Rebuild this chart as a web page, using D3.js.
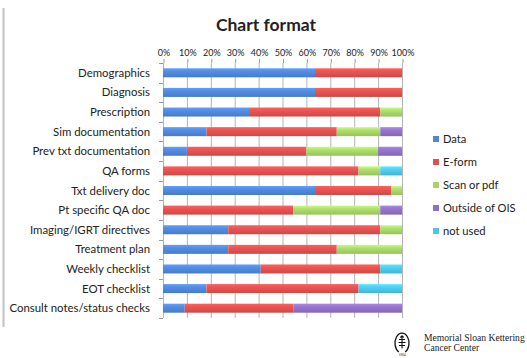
<!DOCTYPE html>
<html>
<head>
<meta charset="utf-8">
<script src="https://cdn.jsdelivr.net/npm/d3@7"></script>
<style>
  html, body { margin: 0; padding: 0; background: #fff; }
  svg { display: block; }
  text { font-family: Lato, "Open Sans", sans-serif; fill: #222; }
</style>
</head>
<body>
<svg id="chart" width="527" height="358"></svg>
<script>
// Categories (top to bottom) and share of each format, in percent
const categories = [
  "Demographics", "Diagnosis", "Prescription", "Sim documentation",
  "Prev txt documentation", "QA forms", "Txt delivery doc", "Pt specific QA doc",
  "Imaging/IGRT directives", "Treatment plan", "Weekly checklist", "EOT checklist",
  "Consult notes/status checks"
];
const seriesNames = ["Data", "E-form", "Scan or pdf", "Outside of OIS", "not used"];
const dataPct    = [63.6, 63.6, 36.4, 18.2, 10, 0,    63.6, 0,    27.3, 27.3, 40.9, 18.2, 9.1];
const eformPct   = [36.4, 36.4, 54.5, 54.5, 50, 81.8, 31.8, 54.5, 63.6, 45.4, 50,   63.6, 45.4];
const scanPct    = [0,    0,    9.1,  18.2, 30, 9.1,  4.6,  36.4, 9.1,  27.3, 0,    0,    0];
const outsidePct = [0,    0,    0,    9.1,  10, 0,    0,    9.1,  0,    0,    0,    0,    45.5];
const notUsedPct = [0,    0,    0,    0,    0,  9.1,  0,    0,    0,    0,    9.1,  18.2, 0];
const tickValues = [0, 10, 20, 30, 40, 50, 60, 70, 80, 90, 100];
const colors = ["#4f86d8", "#e0504e", "#a6d467", "#9070c4", "#4cc5e8"];

const svg = d3.select("#chart");

const rows = categories.map((c, i) => ({
  cat: c,
  "Data": dataPct[i], "E-form": eformPct[i], "Scan or pdf": scanPct[i],
  "Outside of OIS": outsidePct[i], "not used": notUsedPct[i]
}));
const stacked = d3.stack().keys(seriesNames)(rows);

const x = d3.scaleLinear().domain([0, 100]).range([163, 402]);
const y = d3.scaleBand().domain(categories).range([63, 318]).paddingInner(0.54).paddingOuter(0.27);

// glossy vertical gradients for each series
const defs = svg.append("defs");
seriesNames.forEach((s, i) => {
  const c = d3.color(colors[i]);
  const g = defs.append("linearGradient").attr("id", "grad" + i)
    .attr("x1", 0).attr("y1", 0).attr("x2", 0).attr("y2", 1);
  g.append("stop").attr("offset", "0%").attr("stop-color", c.brighter(0.5));
  g.append("stop").attr("offset", "35%").attr("stop-color", c.brighter(0.15));
  g.append("stop").attr("offset", "60%").attr("stop-color", c);
  g.append("stop").attr("offset", "100%").attr("stop-color", c.darker(0.25));
});

// left frame line
svg.append("line").attr("x1", 3.5).attr("x2", 3.5).attr("y1", 8).attr("y2", 327)
  .attr("stroke", "#c2c2c2").attr("stroke-width", 2);

// title
svg.append("text").attr("x", 266).attr("y", 31).attr("text-anchor", "middle")
  .style("font-size", "17.5px").style("font-weight", "bold").text("Chart format");

// vertical gridlines
svg.append("g").selectAll("line").data(tickValues).join("line")
  .attr("x1", d => x(d) + 0.5).attr("x2", d => x(d) + 0.5)
  .attr("y1", 63).attr("y2", 318)
  .attr("stroke", "#b4b4b4").attr("stroke-width", 1);

// top axis
const topAxis = svg.append("g").attr("transform", "translate(0.5,63)")
  .call(d3.axisTop(x).tickValues(tickValues).tickFormat(d => d + "%").tickSize(4).tickPadding(3));
topAxis.select(".domain").remove();
topAxis.selectAll("line").attr("stroke", "#9a9a9a");
topAxis.selectAll("text").style("font-size", "9px").style("font-family", "Lato, sans-serif").attr("fill", "#222");

// left axis: ticks on band boundaries
const bounds = d3.range(categories.length + 1).map(i => 63 + i * y.step());
svg.append("g").selectAll("line").data(bounds).join("line")
  .attr("x1", 159).attr("x2", 163).attr("y1", d => Math.round(d) + 0.5).attr("y2", d => Math.round(d) + 0.5)
  .attr("stroke", "#9a9a9a");

svg.append("g").selectAll("text").data(categories).join("text")
  .attr("x", 150).attr("y", d => y(d) + y.bandwidth() / 2 + 4)
  .attr("text-anchor", "end").style("font-size", "11.4px").text(d => d);

// stacked bars
svg.append("g").selectAll("g").data(stacked).join("g")
  .attr("fill", (d, i) => "url(#grad" + i + ")")
  .selectAll("rect").data(d => d.filter(p => p[1] - p[0] > 0)).join("rect")
  .attr("x", d => x(d[0])).attr("width", d => x(d[1]) - x(d[0]))
  .attr("y", d => y(d.data.cat)).attr("height", y.bandwidth());

// legend
const legend = svg.append("g").selectAll("g").data(seriesNames).join("g")
  .attr("transform", (d, i) => `translate(433,${139 + i * 23})`);
legend.append("rect").attr("x", 0).attr("y", -3).attr("width", 6).attr("height", 6)
  .attr("fill", (d, i) => colors[i]);
legend.append("text").attr("x", 10).attr("y", 4).style("font-size", "11.2px").text(d => d);

// institution mark
const logo = svg.append("g").attr("transform", "translate(402,342.5)")
  .attr("fill", "none").attr("stroke", "#111").attr("stroke-width", 1.3);
logo.append("path").attr("d", "M-3.2,9.5 A7,10 0 1 1 3.2,9.5");
logo.append("path").attr("d", "M0,-6.5 V6 M-3,-3 H3 M-3.5,0 H3.5 M-3,3 H3 M-1.6,-5 L0,-6.7 L1.6,-5").attr("stroke-width", 1.1);
svg.append("text").attr("x", 402).attr("y", 355.5).attr("text-anchor", "middle")
  .style("font-size", "3.5px").style("font-family", "'Liberation Serif', serif").text("1884");
svg.append("text").attr("x", 424).attr("y", 341)
  .style("font-size", "9.6px").style("font-family", "'Liberation Serif', 'DejaVu Serif', serif").text("Memorial Sloan Kettering");
svg.append("text").attr("x", 424).attr("y", 351)
  .style("font-size", "9.6px").style("font-family", "'Liberation Serif', 'DejaVu Serif', serif").text("Cancer Center");
</script>
</body>
</html>
